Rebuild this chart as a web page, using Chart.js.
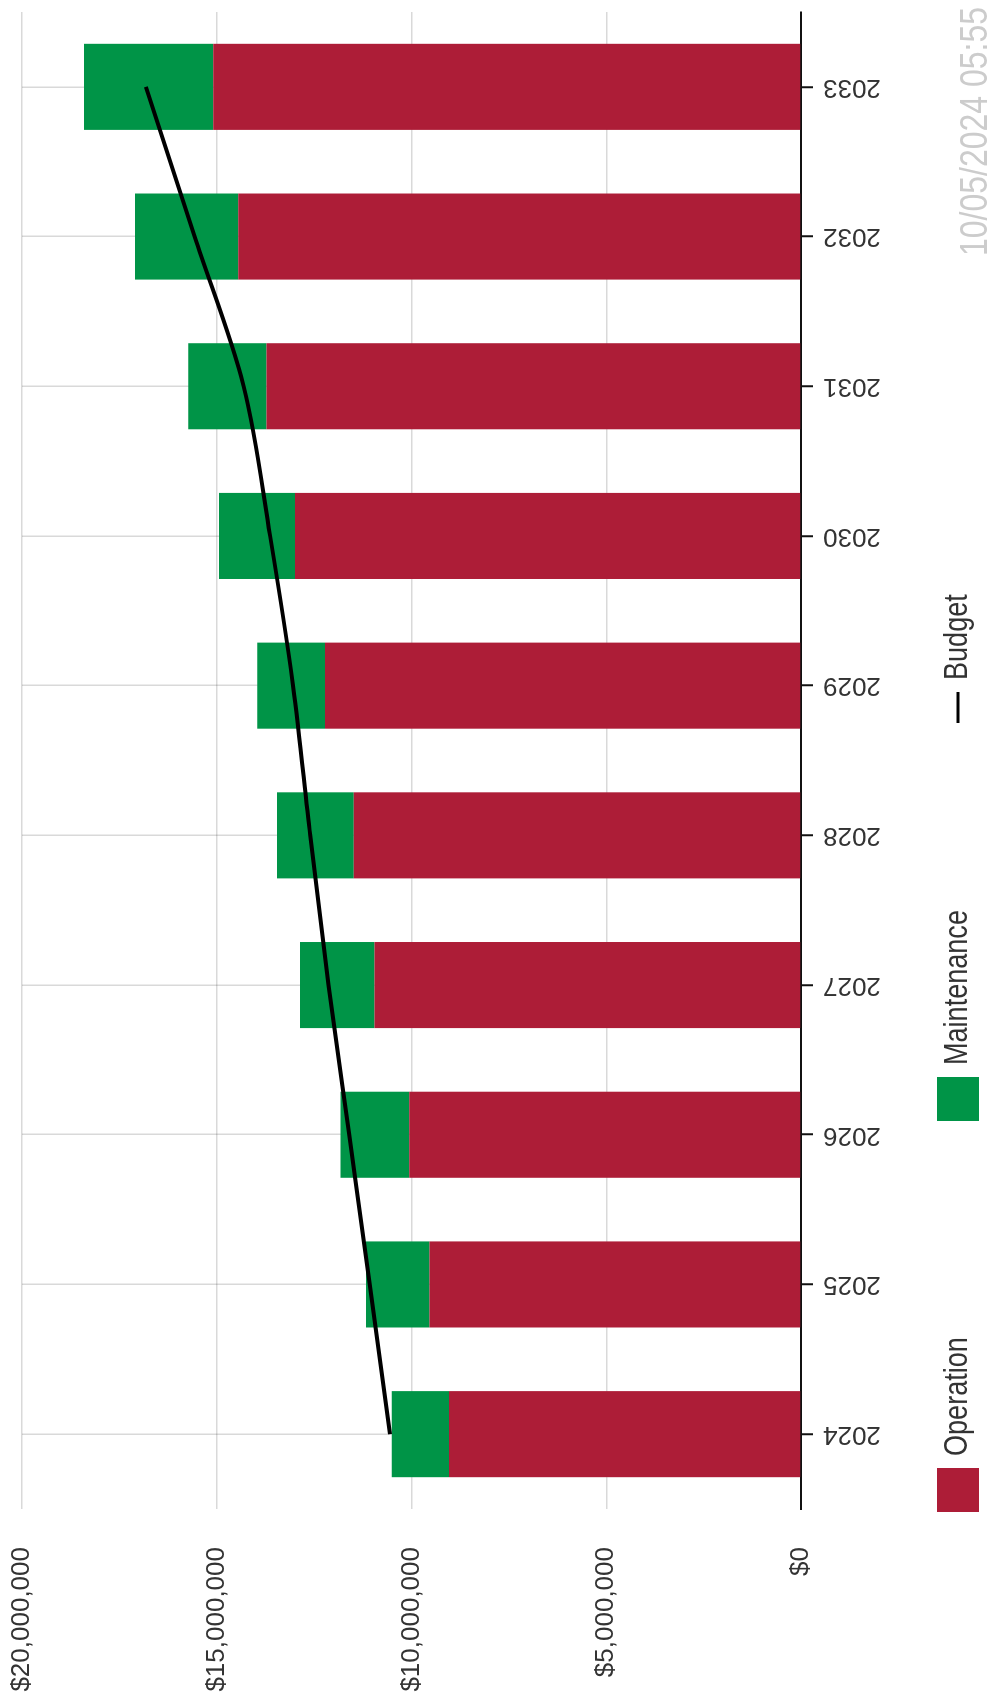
<!DOCTYPE html>
<html>
<head>
<meta charset="utf-8">
<title>Operation and Maintenance Costs</title>
<script src="https://cdn.jsdelivr.net/npm/chart.js@4.4.1/dist/chart.umd.min.js"></script>
<style>
  html, body { margin: 0; padding: 0; background: #fff; overflow: hidden; }
  /* chart is laid out landscape and turned a quarter turn to fit the page */
  #wrap {
    position: absolute; left: 0; top: 0;
    width: 1703px; height: 992px;
    transform-origin: 0 0;
    transform: translateY(1703px) rotate(-90deg);
  }
  canvas { display: block; }
</style>
</head>
<body>
<div id="wrap"><canvas id="mycanvas" width="1703" height="992"></canvas></div>
<script>
var years = ['2024', '2025', '2026', '2027', '2028', '2029', '2030', '2031', '2032', '2033'];
var operation = [9040000, 9540000, 10060000, 10950000, 11480000, 12220000, 12990000, 13720000, 14450000, 15090000];
var maintenance = [1470000, 1630000, 1760000, 1910000, 1970000, 1740000, 1950000, 2010000, 2650000, 3320000];
var budget = [10550000, 11070000, 11600000, 12130000, 12600000, 13040000, 13630000, 14310000, 15570000, 16820000];
var valueTicks = [0, 5000000, 10000000, 15000000, 20000000];
var stamp = '10/05/2024 05:55';

var RED = '#ad1d37';
var GREEN = '#009447';
var FONT = '"Liberation Sans", Arial, sans-serif';

function money(v) {
    return '$' + Number(v).toLocaleString('en-US');
}

// condensed text, squeezed horizontally
function narrowText(ctx, text, x, y, size, color, align) {
    ctx.save();
    ctx.font = size + 'px ' + FONT;
    ctx.fillStyle = color;
    ctx.textBaseline = 'middle';
    ctx.textAlign = align || 'left';
    ctx.translate(x, y);
    ctx.scale(0.82, 1);
    ctx.fillText(text, 0, 0);
    ctx.restore();
}

// legend along the bottom and the timestamp in the corner
var footer = {
    id: 'footer',
    afterDraw: function(chart) {
        var ctx = chart.ctx;
        var cols = [191, 582, 980];
        var midY = 958;
        var order = [1, 2, 0];

        order.forEach(function(di, i) {
            var ds = chart.data.datasets[di];
            var x = cols[i];
            ctx.save();
            if (ds.type === 'line') {
                ctx.strokeStyle = ds.borderColor;
                ctx.lineWidth = 3;
                ctx.beginPath();
                ctx.moveTo(x, midY);
                ctx.lineTo(x + 31, midY);
                ctx.stroke();
                x += 31 + 12;
            } else {
                ctx.fillStyle = ds.backgroundColor;
                ctx.fillRect(x, midY - 21, 44, 42);
                x += 44 + 12;
            }
            ctx.restore();
            narrowText(ctx, ds.label, x, midY, 33, '#333');
        });

        narrowText(ctx, stamp, 1696, 976, 39, '#cccccc', 'right');
    }
};

var ctx = document.getElementById('mycanvas');
var chart = new Chart(ctx, {
    type: 'bar',
    data: {
        labels: years,
        datasets: [
            {
                type: 'line',
                label: 'Budget',
                data: budget,
                borderColor: '#000',
                borderWidth: 4,
                pointRadius: 0,
                fill: false,
                cubicInterpolationMode: 'monotone',
                stack: 'budget',
                order: 0
            },
            {
                label: 'Operation',
                data: operation,
                backgroundColor: RED,
                stack: 'cost',
                order: 1,
                categoryPercentage: 1,
                barPercentage: 0.575
            },
            {
                label: 'Maintenance',
                data: maintenance,
                backgroundColor: GREEN,
                stack: 'cost',
                order: 1,
                categoryPercentage: 1,
                barPercentage: 0.575
            }
        ]
    },
    options: {
        responsive: false,
        animation: false,
        devicePixelRatio: 1,
        layout: { padding: { top: 22, right: 12, left: 0, bottom: 0 } },
        plugins: {
            legend: { display: false },
            tooltip: { enabled: false }
        },
        scales: {
            x: {
                stacked: true,
                z: 1,
                afterFit: function(scale) { scale.height = 191; },
                grid: {
                    offset: false,
                    color: 'rgba(0,0,0,0.15)',
                    lineWidth: 1.5,
                    tickColor: '#111',
                    tickWidth: 2,
                    tickLength: 12
                },
                border: { color: '#111', width: 2 },
                ticks: {
                    autoSkip: false,
                    minRotation: 90,
                    maxRotation: 90,
                    padding: 10,
                    color: '#333',
                    font: { family: FONT, size: 26 }
                }
            },
            y: {
                stacked: true,
                z: 1,
                min: 0,
                max: 20000000,
                afterFit: function(scale) { scale.width = 194; },
                afterBuildTicks: function(scale) {
                    scale.ticks = valueTicks.map(function(v) { return { value: v }; });
                },
                grid: {
                    color: 'rgba(0,0,0,0.15)',
                    lineWidth: 1.5,
                    // hidden tick marks keep the labels clear of the plot
                    tickColor: 'rgba(0,0,0,0)',
                    tickLength: 36
                },
                border: { display: false },
                ticks: {
                    padding: 2,
                    color: '#333',
                    font: { family: FONT, size: 26 },
                    callback: function(v) { return money(v); }
                }
            }
        }
    },
    plugins: [footer]
});
</script>
</body>
</html>
